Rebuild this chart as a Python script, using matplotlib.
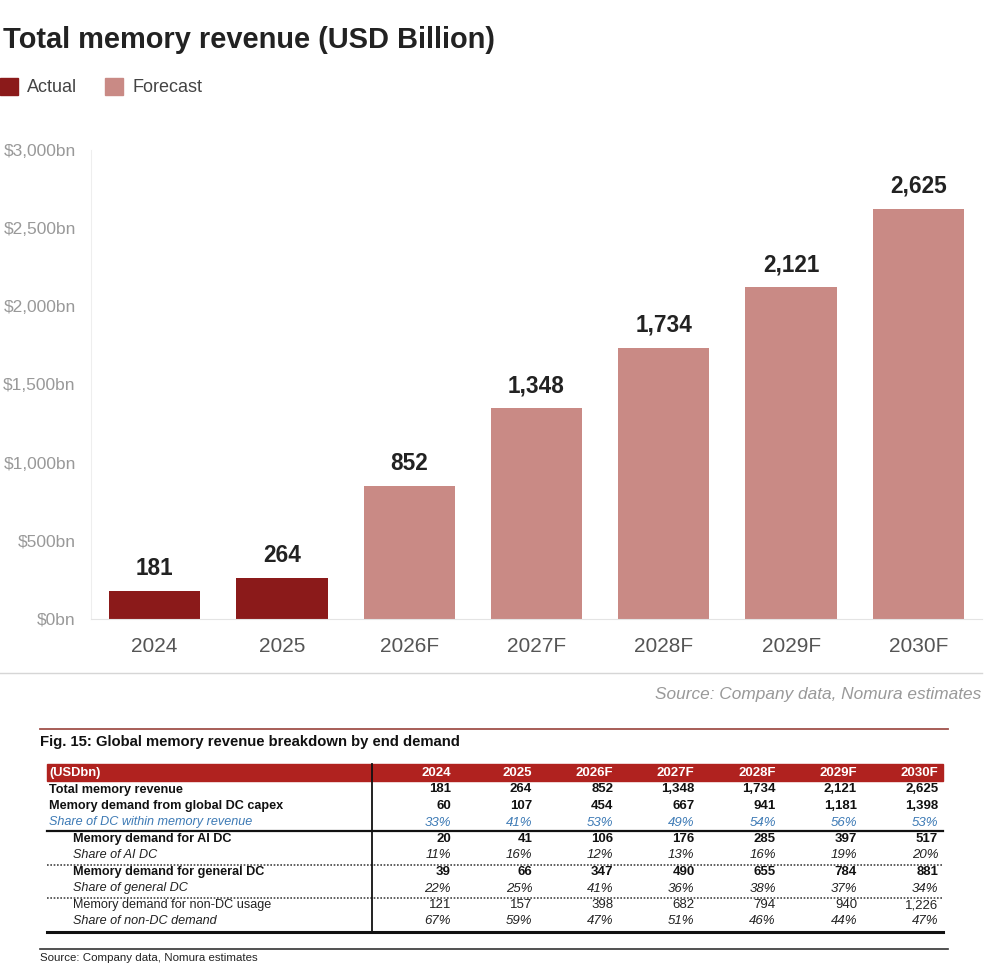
import matplotlib
matplotlib.use("Agg")
import matplotlib.pyplot as plt
from matplotlib.patches import Rectangle
from matplotlib.lines import Line2D

plt.rcParams['font.family'] = ['Liberation Sans', 'DejaVu Sans']

# ---------------- data ----------------
years = ['2024', '2025', '2026F', '2027F', '2028F', '2029F', '2030F']
revenue = [181, 264, 852, 1348, 1734, 2121, 2625]
is_actual = [True, True, False, False, False, False, False]
yticks = [0, 500, 1000, 1500, 2000, 2500, 3000]

row_labels = [
    'Total memory revenue',
    'Memory demand from global DC capex',
    'Share of DC within memory revenue',
    'Memory demand for AI DC',
    'Share of AI DC',
    'Memory demand for general DC',
    'Share of general DC',
    'Memory demand for non-DC usage',
    'Share of non-DC demand',
]
dc_capex = [60, 107, 454, 667, 941, 1181, 1398]
dc_share = [33, 41, 53, 49, 54, 56, 53]
ai_dc = [20, 41, 106, 176, 285, 397, 517]
ai_share = [11, 16, 12, 13, 16, 19, 20]
gen_dc = [39, 66, 347, 490, 655, 784, 881]
gen_share = [22, 25, 41, 36, 38, 37, 34]
nondc = [121, 157, 398, 682, 794, 940, 1226]
nondc_share = [67, 59, 47, 51, 46, 44, 47]

ACTUAL = '#8b1a1a'
FORECAST = '#c98a85'

W, H = 999, 973
fig = plt.figure(figsize=(W / 100, H / 100), dpi=100)

# ---------------- bar chart ----------------
ax = fig.add_axes([91 / W, 1 - 619 / H, (982 - 91) / W, (619 - 150) / H])
x = list(range(len(years)))
colors = [ACTUAL if a else FORECAST for a in is_actual]
bars = ax.bar(x, revenue, width=0.717, color=colors, zorder=2)
ax.bar_label(bars, labels=[f'{v:,}' for v in revenue], padding=8,
             fontsize=16.3, fontweight='bold', color='#222222')
ax.set_xlim(-0.5, len(years) - 0.5)
ax.set_ylim(0, 3000)
ax.set_yticks(yticks)
ax.set_yticklabels([f'${v:,}bn' for v in yticks], fontsize=12.5, color='#999999')
ax.set_xticks(x)
ax.set_xticklabels(years, fontsize=15, color='#555555')
ax.tick_params(axis='both', length=0)
ax.tick_params(axis='y', pad=11)
ax.tick_params(axis='x', pad=13)
for s in ['top', 'right']:
    ax.spines[s].set_visible(False)
ax.spines['left'].set_color('#eeeeee')
ax.spines['bottom'].set_color('#e4e4e4')

# ---------------- overlay (pixel coordinates) ----------------
ov = fig.add_axes([0, 0, 1, 1], zorder=-1)
ov.set_xlim(0, W)
ov.set_ylim(H, 0)
ov.axis('off')

ov.text(3, 40, 'Total memory revenue (USD Billion)', fontsize=20.9, fontweight='bold',
        color='#222222', va='center', ha='left')

# legend
ov.add_patch(Rectangle((0, 78), 18, 17, color=ACTUAL))
ov.text(27, 87, 'Actual', fontsize=13, color='#444444', va='center')
ov.add_patch(Rectangle((105, 78), 18, 17, color=FORECAST))
ov.text(132, 87, 'Forecast', fontsize=13, color='#444444', va='center')

# separator + source
ov.add_line(Line2D([0, 982], [673, 673], color='#d6d6d6', lw=1))
ov.text(981, 694, 'Source: Company data, Nomura estimates', fontsize=12.4, style='italic',
        color='#999999', ha='right', va='center')

# ---------------- table ----------------
ov.add_line(Line2D([40, 948], [729, 729], color='#a0504a', lw=1.3))
ov.text(40, 742, 'Fig. 15: Global memory revenue breakdown by end demand', fontsize=10.75,
        fontweight='bold', color='#111111', va='center')

tx0, tx1 = 47, 943
ov.add_patch(Rectangle((tx0, 764), tx1 - tx0, 17, color='#b0221f'))
ov.text(49, 773, '(USDbn)', fontsize=9.3, fontweight='bold', color='white', va='center')
col_right = [451 + 81.2 * i for i in range(len(years))]
for cx, yr in zip(col_right, years):
    ov.text(cx, 773, yr, fontsize=9.5, fontweight='bold', color='white', va='center', ha='right')

table_rows = [
    ([f'{v:,}' for v in revenue], 'bold', 'normal', '#111111', 49),
    ([f'{v:,}' for v in dc_capex], 'bold', 'normal', '#111111', 49),
    ([f'{v}%' for v in dc_share], 'normal', 'italic', '#3d7ab5', 49),
    ([f'{v:,}' for v in ai_dc], 'bold', 'normal', '#111111', 73),
    ([f'{v}%' for v in ai_share], 'normal', 'italic', '#222222', 73),
    ([f'{v:,}' for v in gen_dc], 'bold', 'normal', '#111111', 73),
    ([f'{v}%' for v in gen_share], 'normal', 'italic', '#222222', 73),
    ([f'{v:,}' for v in nondc], 'normal', 'normal', '#222222', 73),
    ([f'{v}%' for v in nondc_share], 'normal', 'italic', '#222222', 73),
]
for i, (lab, (vals, wt, st, col, lx)) in enumerate(zip(row_labels, table_rows)):
    ry = 789.5 + 16.5 * i
    ov.text(lx, ry, lab, fontsize=9.1, fontweight=wt, style=st, color=col, va='center')
    for cx, v in zip(col_right, vals):
        ov.text(cx, ry, v, fontsize=9.5, fontweight=wt, style=st, color=col,
                va='center', ha='right')

ov.add_line(Line2D([tx0, tx1], [831, 831], color='#111111', lw=1.6))
ov.add_line(Line2D([tx0, tx1], [864.5, 864.5], color='#444444', lw=1.2, ls=(0, (1, 1))))
ov.add_line(Line2D([tx0, tx1], [897.5, 897.5], color='#444444', lw=1.2, ls=(0, (1, 1))))
ov.add_line(Line2D([tx0, tx1], [932, 932], color='#111111', lw=2.2))
ov.add_line(Line2D([372, 372], [764, 932], color='#111111', lw=1.3))

ov.add_line(Line2D([40, 948], [949, 949], color='#333333', lw=1.2))
ov.text(40, 958, 'Source: Company data, Nomura estimates', fontsize=8.25, color='#222222', va='center')

fig.savefig('out.png', dpi=100, facecolor='white')
